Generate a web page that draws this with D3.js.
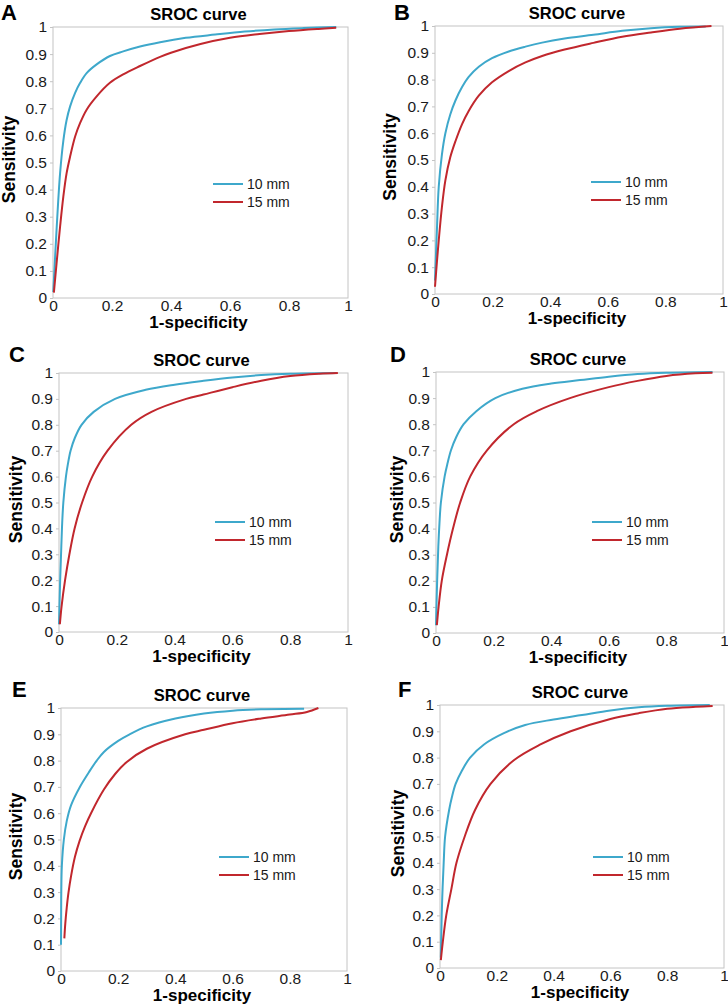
<!DOCTYPE html>
<html>
<head>
<meta charset="utf-8">
<script src="https://cdn.jsdelivr.net/npm/d3@7"></script>
<style>
  body { margin: 0; background: #fff; }
  text { font-family: "Liberation Sans", Arial, sans-serif; fill: #1a1a1a; }
</style>
</head>
<body>
<svg id="chart"></svg>
<script>
// tick labels shared by all six panels
const yTicks = [0, 0.1, 0.2, 0.3, 0.4, 0.5, 0.6, 0.7, 0.8, 0.9, 1];
const xTicks = [0, 0.2, 0.4, 0.6, 0.8, 1];
const seriesNames = ['10 mm', '15 mm'];

// [1-specificity, sensitivity]
const rocA10 = [[0.001,0.022],[0.012,0.25],[0.024,0.46],[0.035,0.58],[0.046,0.656],[0.058,0.707],[0.075,0.757],[0.092,0.794],[0.114,0.83],[0.148,0.862],[0.193,0.893],[0.238,0.91],[0.295,0.928],[0.363,0.944],[0.45,0.96],[0.55,0.972],[0.65,0.983],[0.75,0.991],[0.85,0.996],[0.96,1.0]];
const rocA15 = [[0.003,0.02],[0.012,0.127],[0.024,0.263],[0.035,0.374],[0.046,0.46],[0.058,0.522],[0.075,0.596],[0.092,0.646],[0.114,0.695],[0.148,0.744],[0.193,0.794],[0.238,0.825],[0.295,0.856],[0.363,0.89],[0.4,0.905],[0.5,0.937],[0.6,0.96],[0.7,0.974],[0.8,0.985],[0.9,0.993],[0.96,0.997]];

const rocB10 = [[0,0.05],[0.007,0.25],[0.013,0.4],[0.024,0.52],[0.036,0.6],[0.053,0.67],[0.071,0.722],[0.094,0.772],[0.117,0.81],[0.152,0.848],[0.198,0.88],[0.256,0.905],[0.314,0.923],[0.372,0.938],[0.45,0.953],[0.55,0.967],[0.65,0.982],[0.75,0.992],[0.85,0.997],[0.94,0.998]];
const rocB15 = [[0,0.027],[0.007,0.124],[0.013,0.2],[0.024,0.324],[0.036,0.424],[0.053,0.51],[0.071,0.57],[0.094,0.634],[0.117,0.683],[0.152,0.74],[0.198,0.79],[0.256,0.832],[0.314,0.864],[0.372,0.888],[0.45,0.912],[0.55,0.937],[0.65,0.96],[0.75,0.976],[0.85,0.99],[0.96,1.0]];

const rocC10 = [[0,0.03],[0.004,0.2],[0.008,0.33],[0.011,0.42],[0.015,0.5],[0.024,0.6],[0.031,0.65],[0.04,0.7],[0.055,0.75],[0.078,0.8],[0.12,0.85],[0.194,0.9],[0.3,0.935],[0.4,0.955],[0.5,0.97],[0.6,0.983],[0.7,0.992],[0.8,0.997],[0.96,1.0]];
const rocC15 = [[0.003,0.03],[0.009,0.1],[0.021,0.2],[0.036,0.3],[0.054,0.4],[0.08,0.5],[0.115,0.6],[0.168,0.7],[0.25,0.8],[0.32,0.85],[0.44,0.9],[0.5,0.917],[0.6,0.945],[0.7,0.97],[0.8,0.988],[0.9,0.997],[0.965,1.0]];

const rocD10 = [[0,0.03],[0.004,0.2],[0.008,0.33],[0.012,0.42],[0.017,0.5],[0.03,0.6],[0.04,0.65],[0.052,0.7],[0.07,0.75],[0.096,0.8],[0.14,0.85],[0.206,0.9],[0.3,0.936],[0.4,0.956],[0.5,0.969],[0.6,0.982],[0.7,0.992],[0.8,0.997],[0.96,1.0]];
const rocD15 = [[0.003,0.03],[0.009,0.1],[0.02,0.2],[0.038,0.3],[0.059,0.4],[0.084,0.5],[0.119,0.6],[0.177,0.7],[0.27,0.8],[0.35,0.85],[0.465,0.9],[0.6,0.942],[0.7,0.966],[0.8,0.985],[0.9,0.995],[0.96,0.997]];

const rocE10 = [[0,0.1],[0.0005,0.2],[0.001,0.3],[0.003,0.4],[0.01,0.5],[0.02,0.57],[0.035,0.63],[0.066,0.7],[0.1,0.76],[0.125,0.8],[0.15,0.833],[0.2,0.875],[0.24,0.9],[0.3,0.93],[0.4,0.96],[0.5,0.979],[0.6,0.99],[0.7,0.995],[0.85,0.997]];
const rocE15 = [[0.0117,0.124],[0.015,0.18],[0.02,0.24],[0.026,0.297],[0.035,0.36],[0.049,0.435],[0.065,0.495],[0.084,0.55],[0.105,0.6],[0.15,0.69],[0.19,0.75],[0.23,0.795],[0.3,0.845],[0.434,0.9],[0.5,0.917],[0.6,0.942],[0.7,0.96],[0.8,0.975],[0.86,0.985],[0.9,1.0]];

const rocF10 = [[0.003,0.04],[0.006,0.2],[0.009,0.3],[0.013,0.4],[0.018,0.5],[0.032,0.6],[0.042,0.65],[0.055,0.7],[0.077,0.75],[0.106,0.8],[0.155,0.85],[0.225,0.893],[0.3,0.924],[0.4,0.945],[0.5,0.962],[0.6,0.979],[0.7,0.991],[0.8,0.997],[0.95,1.0]];
const rocF15 = [[0.003,0.03],[0.01,0.1],[0.022,0.2],[0.04,0.3],[0.058,0.4],[0.087,0.5],[0.123,0.6],[0.178,0.7],[0.26,0.79],[0.35,0.848],[0.46,0.9],[0.6,0.947],[0.7,0.969],[0.8,0.986],[0.9,0.993],[0.96,0.996]];

const colors = ['#3ea8cb', '#c1272d'];

// where each panel sits on the page
const panels = [
  { letter: 'A', series: [rocA10, rocA15], l: 53, r: 348, t: 27, b: 298, lx: 1, ly: 20, yl: 15, legX: 213, legY: 184 },
  { letter: 'B', series: [rocB10, rocB15], l: 435, r: 723, t: 26, b: 294, lx: 394, ly: 20, yl: 396, legX: 591, legY: 182 },
  { letter: 'C', series: [rocC10, rocC15], l: 59, r: 348, t: 373, b: 632, lx: 9, ly: 362, yl: 22, legX: 215, legY: 522 },
  { letter: 'D', series: [rocD10, rocD15], l: 436, r: 724, t: 372, b: 633, lx: 390, ly: 362, yl: 403, legX: 592, legY: 522 },
  { letter: 'E', series: [rocE10, rocE15], l: 61, r: 347, t: 708, b: 971, lx: 12, ly: 697, yl: 22, legX: 219, legY: 857 },
  { letter: 'F', series: [rocF10, rocF15], l: 440, r: 724, t: 705, b: 968, lx: 398, ly: 697, yl: 404, legX: 593, legY: 857 }
];

const svg = d3.select('#chart')
  .attr('width', 728)
  .attr('height', 1007);

const fmt = d => (d === 0 || d === 1) ? String(d) : d3.format('.1f')(d);

panels.forEach(p => {
  const x = d3.scaleLinear().domain([0, 1]).range([p.l, p.r]);
  const y = d3.scaleLinear().domain([0, 1]).range([p.b, p.t]);
  const g = svg.append('g');

  // panel letter
  g.append('text')
    .attr('x', p.lx).attr('y', p.ly)
    .text(p.letter)
    .style('font-size', '22px')
    .style('font-weight', 'bold')
    .style('fill', '#000');

  // title
  g.append('text')
    .attr('x', (p.l + p.r) / 2 - 2).attr('y', p.t - 7)
    .attr('text-anchor', 'middle')
    .text('SROC curve')
    .style('font-size', '16.5px')
    .style('font-weight', 'bold')
    .style('fill', '#000');

  // plot frame
  g.append('rect')
    .attr('x', p.l).attr('y', p.t)
    .attr('width', p.r - p.l).attr('height', p.b - p.t)
    .attr('fill', 'none')
    .attr('stroke', '#c4c4c4')
    .attr('stroke-width', 1);

  const yAxis = g.append('g')
    .attr('transform', `translate(${p.l},0)`)
    .call(d3.axisLeft(y).tickValues(yTicks).tickFormat(fmt).tickSize(3).tickPadding(3));
  yAxis.select('.domain').remove();
  yAxis.selectAll('line').attr('stroke', '#c4c4c4');
  yAxis.selectAll('text').style('font-size', '15.5px').style('font-family', '"Liberation Sans", Arial, sans-serif').attr('fill', '#1a1a1a');

  const xAxis = g.append('g')
    .attr('transform', `translate(0,${p.b})`)
    .call(d3.axisBottom(x).tickValues(xTicks).tickFormat(fmt).tickSize(0).tickPadding(2));
  xAxis.select('.domain').remove();
  xAxis.selectAll('text').style('font-size', '15.5px').style('font-family', '"Liberation Sans", Arial, sans-serif').attr('fill', '#1a1a1a');

  // axis titles
  g.append('text')
    .attr('x', (p.l + p.r) / 2 - 2).attr('y', p.b + 30)
    .attr('text-anchor', 'middle')
    .text('1-specificity')
    .style('font-size', '17px')
    .style('font-weight', 'bold')
    .style('fill', '#000');

  g.append('text')
    .attr('transform', `translate(${p.yl},${(p.t + p.b) / 2 - 3}) rotate(-90)`)
    .attr('text-anchor', 'middle')
    .text('Sensitivity')
    .style('font-size', '17.5px')
    .style('font-weight', 'bold')
    .style('fill', '#000');

  const line = d3.line()
    .x(d => x(d[0]))
    .y(d => y(d[1]))
    .curve(d3.curveCatmullRom.alpha(0.5));

  p.series.forEach((s, i) => {
    g.append('path')
      .datum(s)
      .attr('d', line)
      .attr('fill', 'none')
      .attr('stroke', colors[i])
      .attr('stroke-width', 2);
  });

  // legend
  seriesNames.forEach((name, i) => {
    const ly = p.legY + i * 18;
    g.append('line')
      .attr('x1', p.legX).attr('x2', p.legX + 30)
      .attr('y1', ly).attr('y2', ly)
      .attr('stroke', colors[i])
      .attr('stroke-width', 2);
    g.append('text')
      .attr('x', p.legX + 34).attr('y', ly + 5)
      .text(name)
      .style('font-size', '14px');
  });
});
</script>
</body>
</html>
